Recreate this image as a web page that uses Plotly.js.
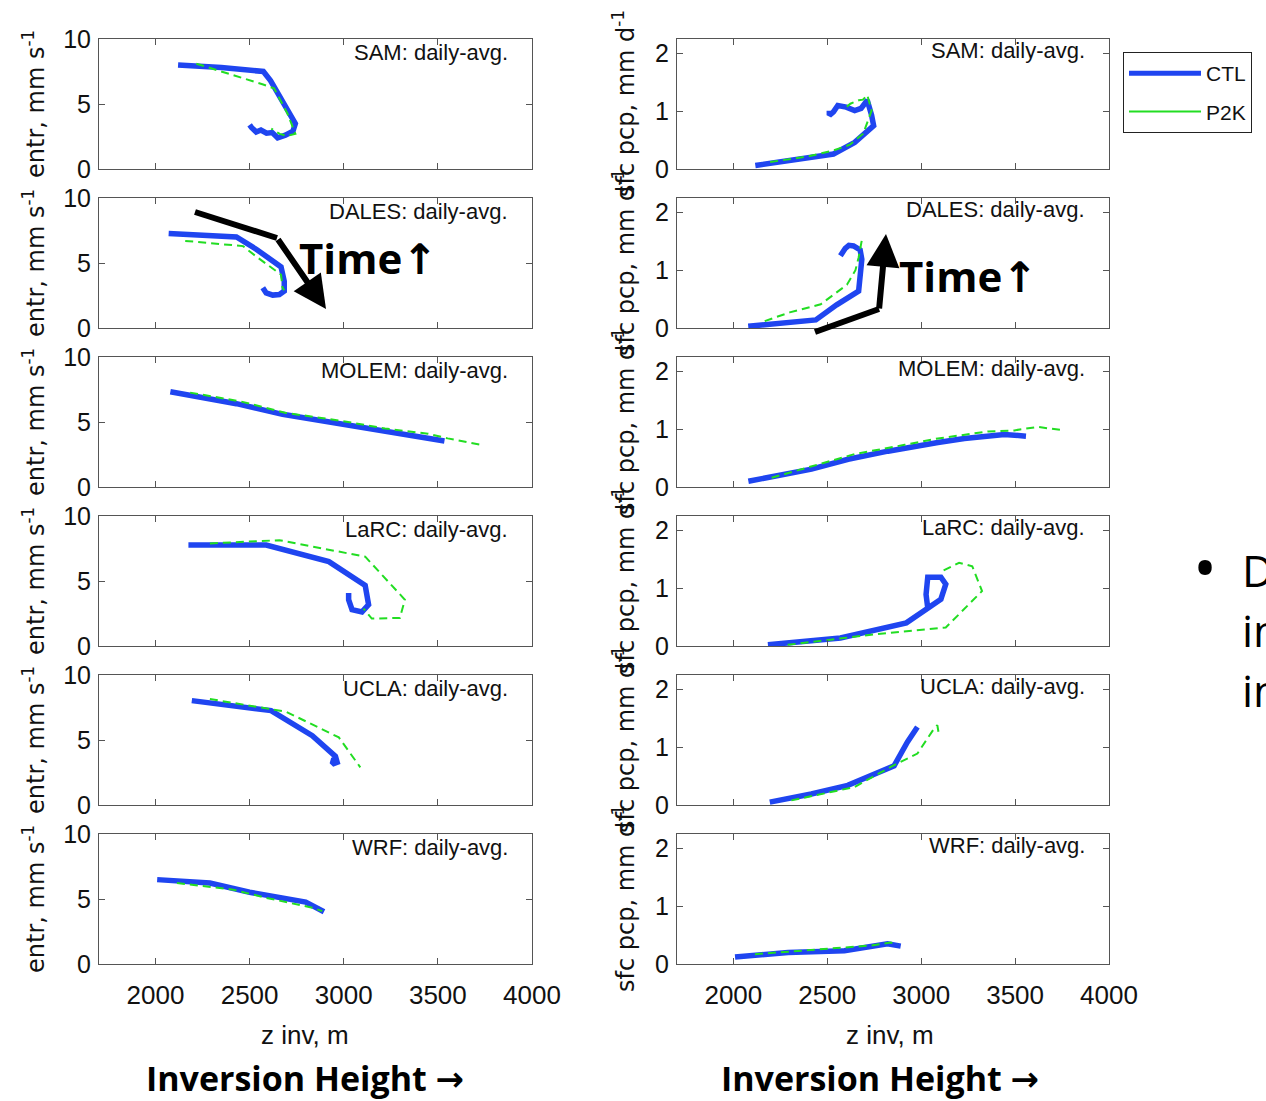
<!DOCTYPE html>
<html>
<head>
<meta charset="utf-8">
<script src="https://cdn.plot.ly/plotly-3.0.1.min.js"></script>
<style>html,body{margin:0;padding:0;background:#fff;}#chart{width:1266px;height:1101px;}</style>
</head>
<body>
<div id="chart"></div>
<script>
// ---------------- DATA ----------------
const models = ['SAM', 'DALES', 'MOLEM', 'LaRC', 'UCLA', 'WRF'];
const seriesNames = ['CTL', 'P2K'];
const xTicks = [2000, 2500, 3000, 3500, 4000];
const entrTicks = [0, 5, 10];
const pcpTicks = [0, 1, 2];
const entrTitle = 'entr, mm s<sup>-1</sup>';
const pcpTitle = 'sfc pcp, mm d<sup>-1</sup>';
const panelSuffix = ': daily-avg.';

// SAM
const samEntrCtlZ = [2120, 2350, 2573, 2611, 2743, 2730, 2690, 2649, 2620, 2590, 2560, 2535, 2510, 2500];
const samEntrCtlV = [8.0, 7.8, 7.5, 6.8, 3.5, 2.9, 2.6, 2.4, 2.8, 2.75, 3.0, 2.85, 3.2, 3.4];
const samEntrP2kZ = [2217, 2400, 2572, 2630, 2700, 2743, 2700, 2660, 2630, 2615];
const samEntrP2kV = [8.1, 7.3, 6.5, 6.2, 4.3, 2.7, 2.55, 2.7, 3.0, 3.1];
const samPcpCtlZ = [2117, 2350, 2533, 2646, 2747, 2736, 2713, 2680, 2646, 2601, 2556, 2533, 2511, 2511];
const samPcpCtlV = [0.06, 0.17, 0.26, 0.46, 0.75, 0.93, 1.19, 1.05, 1.01, 1.07, 1.10, 0.99, 0.93, 1.01];
const samPcpP2kZ = [2196, 2400, 2533, 2620, 2691, 2736, 2713, 2690, 2668, 2623, 2601];
const samPcpP2kV = [0.12, 0.22, 0.32, 0.42, 0.61, 1.01, 1.28, 1.2, 1.19, 1.13, 1.07];
// DALES
const dalesEntrCtlZ = [2070, 2430, 2535, 2667, 2684, 2684, 2658, 2623, 2588, 2570];
const dalesEntrCtlV = [7.27, 7.0, 6.06, 4.7, 3.6, 2.84, 2.58, 2.53, 2.7, 3.1];
const dalesEntrP2kZ = [2158, 2465, 2535, 2667, 2675, 2684];
const dalesEntrP2kV = [6.7, 6.3, 5.5, 4.1, 3.1, 2.9];
const dalesPcpCtlZ = [2079, 2250, 2439, 2550, 2667, 2684, 2675, 2640, 2615, 2596, 2570];
const dalesPcpCtlV = [0.03, 0.08, 0.14, 0.40, 0.64, 1.19, 1.35, 1.42, 1.43, 1.38, 1.25];
const dalesPcpP2kZ = [2167, 2300, 2465, 2605, 2650, 2667, 2684];
const dalesPcpP2kV = [0.12, 0.27, 0.41, 0.75, 1.0, 1.22, 1.52];
// MOLEM
const molemEntrCtlZ = [2079, 2237, 2430, 2675, 3009, 3219, 3465, 3535];
const molemEntrCtlV = [7.33, 6.92, 6.41, 5.59, 4.77, 4.31, 3.67, 3.54];
const molemEntrP2kZ = [2184, 2447, 2693, 2991, 3219, 3447, 3552, 3622, 3737];
const molemEntrP2kV = [7.26, 6.6, 5.7, 5.08, 4.5, 4.1, 3.74, 3.54, 3.23];
const molemPcpCtlZ = [2080, 2204, 2416, 2611, 2823, 3089, 3230, 3443, 3558];
const molemPcpCtlV = [0.10, 0.17, 0.31, 0.48, 0.62, 0.77, 0.84, 0.91, 0.88];
const molemPcpP2kZ = [2204, 2451, 2646, 2912, 3089, 3354, 3496, 3620, 3673, 3761];
const molemPcpP2kV = [0.16, 0.39, 0.57, 0.73, 0.84, 0.96, 0.98, 1.04, 1.02, 0.98];
// LaRC
const larcEntrCtlZ = [2175, 2588, 2921, 3114, 3132, 3097, 3044, 3026, 3026];
const larcEntrCtlV = [7.76, 7.76, 6.49, 4.66, 3.18, 2.62, 2.80, 3.56, 4.07];
const larcEntrP2kZ = [2289, 2658, 3114, 3325, 3298, 3149, 3105];
const larcEntrP2kV = [7.89, 8.14, 6.87, 3.56, 2.16, 2.11, 2.88];
const larcPcpCtlZ = [2184, 2570, 2921, 3026, 3105, 3131, 3105, 3035, 3026, 3035];
const larcPcpCtlV = [0.02, 0.14, 0.40, 0.63, 0.81, 1.07, 1.19, 1.19, 0.89, 0.66];
const larcPcpP2kZ = [2289, 2746, 3131, 3324, 3272, 3202, 3114, 3096];
const larcPcpP2kV = [0.02, 0.20, 0.32, 0.95, 1.38, 1.44, 1.30, 1.27];
// UCLA
const uclaEntrCtlZ = [2193, 2614, 2833, 2956, 2965, 2939, 2945, 2960];
const uclaEntrCtlV = [8.03, 7.26, 5.33, 3.74, 3.28, 3.15, 3.45, 3.5];
const uclaEntrP2kZ = [2289, 2693, 2974, 3018, 3088];
const uclaEntrP2kV = [8.15, 7.18, 5.2, 4.3, 2.9];
const uclaPcpCtlZ = [2194, 2415, 2609, 2856, 2927, 2980];
const uclaPcpCtlV = [0.05, 0.19, 0.34, 0.68, 1.09, 1.35];
const uclaPcpP2kZ = [2309, 2644, 2838, 2980, 3068, 3086, 3094];
const uclaPcpP2kV = [0.08, 0.31, 0.66, 0.89, 1.32, 1.38, 1.23];
// WRF
const wrfEntrCtlZ = [2009, 2289, 2500, 2798, 2895];
const wrfEntrCtlV = [6.49, 6.23, 5.52, 4.76, 4.02];
const wrfEntrP2kZ = [2114, 2412, 2588, 2833, 2886];
const wrfEntrP2kV = [6.23, 5.72, 5.09, 4.33, 4.07];
const wrfPcpCtlZ = [2009, 2291, 2591, 2821, 2891];
const wrfPcpCtlV = [0.12, 0.20, 0.23, 0.35, 0.31];
const wrfPcpP2kZ = [2115, 2468, 2732, 2838, 2874];
const wrfPcpP2kV = [0.17, 0.26, 0.32, 0.37, 0.35];

const entrData = [
  [samEntrCtlZ, samEntrCtlV, samEntrP2kZ, samEntrP2kV],
  [dalesEntrCtlZ, dalesEntrCtlV, dalesEntrP2kZ, dalesEntrP2kV],
  [molemEntrCtlZ, molemEntrCtlV, molemEntrP2kZ, molemEntrP2kV],
  [larcEntrCtlZ, larcEntrCtlV, larcEntrP2kZ, larcEntrP2kV],
  [uclaEntrCtlZ, uclaEntrCtlV, uclaEntrP2kZ, uclaEntrP2kV],
  [wrfEntrCtlZ, wrfEntrCtlV, wrfEntrP2kZ, wrfEntrP2kV]
];
const pcpData = [
  [samPcpCtlZ, samPcpCtlV, samPcpP2kZ, samPcpP2kV],
  [dalesPcpCtlZ, dalesPcpCtlV, dalesPcpP2kZ, dalesPcpP2kV],
  [molemPcpCtlZ, molemPcpCtlV, molemPcpP2kZ, molemPcpP2kV],
  [larcPcpCtlZ, larcPcpCtlV, larcPcpP2kZ, larcPcpP2kV],
  [uclaPcpCtlZ, uclaPcpCtlV, uclaPcpP2kZ, uclaPcpP2kV],
  [wrfPcpCtlZ, wrfPcpCtlV, wrfPcpP2kZ, wrfPcpP2kV]
];

// ---------------- LAYOUT ----------------
const W = 1266, H = 1101;
const fx = p => p / W;
const fy = p => 1 - p / H;
const BLUE = '#1f45f0', GREEN = '#22dd22', AX = '#555';
const FONT = 'Liberation Sans, Arial, sans-serif';
const WIDE = 'DejaVu Sans, sans-serif';
const BOLD = 'Open Sans, DejaVu Sans, sans-serif';
const leftX = [99, 532], rightX = [677, 1109];
const panelTop = [39, 198, 357, 516, 675, 834];
const panelH = 130;

const traces = [];
const layout = {
  width: W, height: H,
  margin: {l: 0, r: 0, t: 0, b: 0},
  paper_bgcolor: '#fff', plot_bgcolor: '#fff',
  showlegend: true,
  legend: {
    x: fx(1123), y: fy(52), xanchor: 'left', yanchor: 'top',
    bordercolor: '#222', borderwidth: 1, bgcolor: '#fff',
    font: {family: FONT, size: 21, color: '#111'},
    itemwidth: 72, tracegroupgap: 8
  },
  annotations: [], shapes: []
};

function axisBase(domain, range, tickvals, showLabels, tickSize) {
  return {
    domain: domain, range: range, tickvals: tickvals, tickmode: 'array',
    showline: true, mirror: 'ticks', linecolor: AX, linewidth: 1,
    ticks: 'inside', ticklen: 6, tickcolor: AX, tickwidth: 1,
    showgrid: false, zeroline: false, showticklabels: showLabels,
    tickfont: {family: FONT, size: tickSize, color: '#111'},
    fixedrange: true
  };
}

models.forEach((m, i) => {
  const top = panelTop[i], bot = top + panelH;
  const yd = [fy(bot), fy(top)];
  const isBottom = i === models.length - 1;
  [0, 1].forEach(side => {
    const idx = 2 * i + side + 1;
    const xa = 'xaxis' + idx, ya = 'yaxis' + idx;
    const xd = side === 0 ? [fx(leftX[0]), fx(leftX[1])] : [fx(rightX[0]), fx(rightX[1])];
    layout[xa] = axisBase(xd, [1700, 4000], xTicks, isBottom, 26);
    layout[xa].anchor = 'y' + idx;
    layout[xa].ticklabelstandoff = 8;
    const yr = side === 0 ? [0, 10] : [0, 2.25];
    layout[ya] = axisBase(yd, yr, side === 0 ? entrTicks : pcpTicks, true, 25);
    layout[ya].anchor = 'x' + idx;
    layout[ya].ticklabelstandoff = 2;
    const d = side === 0 ? entrData[i] : pcpData[i];
    traces.push({
      x: d[0], y: d[1], xaxis: 'x' + idx, yaxis: 'y' + idx, mode: 'lines',
      name: seriesNames[0], showlegend: false, legendgroup: 'ctl',
      line: {color: BLUE, width: 5.5}, hoverinfo: 'skip'
    });
    traces.push({
      x: d[2], y: d[3], xaxis: 'x' + idx, yaxis: 'y' + idx, mode: 'lines',
      name: seriesNames[1], showlegend: false, legendgroup: 'p2k',
      line: {color: GREEN, width: 2, dash: '8px,5px'}, hoverinfo: 'skip'
    });
    // panel label
    const xr = side === 0 ? leftX[1] : rightX[1];
    layout.annotations.push({
      xref: 'paper', yref: 'paper', x: fx(xr - 22), y: fy(top + 13 - side * 2),
      xanchor: 'right', yanchor: 'middle', showarrow: false,
      text: m + panelSuffix, font: {family: FONT, size: 22, color: '#111'}
    });
    // y title
    layout.annotations.push({
      xref: 'paper', yref: 'paper', x: fx(side === 0 ? 34 : 624), y: fy(top + panelH / 2),
      xanchor: 'center', yanchor: 'middle', showarrow: false, textangle: -90,
      text: side === 0 ? entrTitle : pcpTitle, font: {family: WIDE, size: 24, color: '#111'}
    });
  });
});

// legend entries (solid, as in the reference legend)
traces.push({x: [null], y: [null], xaxis: 'x1', yaxis: 'y1', mode: 'lines', name: seriesNames[0],
  legendgroup: 'ctl', showlegend: true, line: {color: BLUE, width: 5}});
traces.push({x: [null], y: [null], xaxis: 'x1', yaxis: 'y1', mode: 'lines', name: seriesNames[1],
  legendgroup: 'p2k', showlegend: true, line: {color: GREEN, width: 2}});

// x titles and footer
[[305, 'z inv, m'], [890, 'z inv, m']].forEach(([cx, t]) => {
  layout.annotations.push({xref: 'paper', yref: 'paper', x: fx(cx), y: fy(1035), xanchor: 'center', yanchor: 'middle',
    showarrow: false, text: t, font: {family: FONT, size: 26, color: '#111'}});
});
[[305], [880]].forEach(([cx]) => {
  layout.annotations.push({xref: 'paper', yref: 'paper', x: fx(cx), y: fy(1078), xanchor: 'center', yanchor: 'middle',
    showarrow: false, text: 'Inversion Height →', font: {family: BOLD, size: 34, color: '#000', weight: 700}});
});

// Time annotations
[[368, 257], [968, 275]].forEach(([cx, cy]) => {
  layout.annotations.push({xref: 'paper', yref: 'paper', x: fx(cx), y: fy(cy), xanchor: 'center', yanchor: 'middle',
    showarrow: false, text: 'Time↑', font: {family: BOLD, size: 42, color: '#000', weight: 700}});
});
// arrow lines
layout.shapes.push({type: 'line', xref: 'paper', yref: 'paper', x0: fx(195), y0: fy(212), x1: fx(277), y1: fy(238),
  line: {color: '#000', width: 6}});
layout.shapes.push({type: 'line', xref: 'paper', yref: 'paper', x0: fx(815), y0: fy(332), x1: fx(879), y1: fy(309),
  line: {color: '#000', width: 6}});
layout.annotations.push({xref: 'paper', yref: 'paper', x: fx(326), y: fy(309), ax: 277 - 326, ay: 238 - 309,
  axref: 'pixel', ayref: 'pixel', text: '', showarrow: true, arrowhead: 2, arrowsize: 1.1, arrowwidth: 6, arrowcolor: '#000'});
layout.annotations.push({xref: 'paper', yref: 'paper', x: fx(886), y: fy(234), ax: 879 - 886, ay: 310 - 234,
  axref: 'pixel', ayref: 'pixel', text: '', showarrow: true, arrowhead: 2, arrowsize: 1.1, arrowwidth: 6, arrowcolor: '#000'});

// right side text (cut off at the page edge, as in the reference)
layout.annotations.push({xref: 'paper', yref: 'paper', x: fx(1205), y: fy(566), xanchor: 'center', yanchor: 'middle',
  showarrow: false, text: '•', font: {family: BOLD, size: 64, color: '#000'}});
[['D', 570], ['in', 630], ['in', 690]].forEach(([t, cy]) => {
  layout.annotations.push({xref: 'paper', yref: 'paper', x: fx(1240), y: fy(cy), xanchor: 'left', yanchor: 'middle',
    showarrow: false, text: t, font: {family: BOLD, size: 44, color: '#000'}});
});

Plotly.newPlot('chart', traces, layout, {displayModeBar: false, staticPlot: true});
</script>
</body>
</html>
